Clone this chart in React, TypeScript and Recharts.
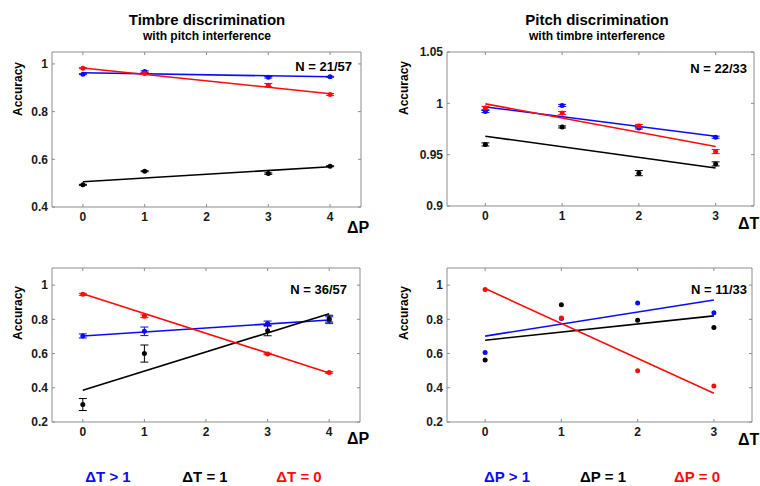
import React from 'react';
import { ComposedChart, Scatter, Line, XAxis, YAxis, ErrorBar } from 'recharts';

const BLUE = '#0a0aff';
const BLACK = '#000000';
const RED = '#ff0a0a';
const FRAME = '#8c8c8c';
const FONT = '"Liberation Sans", Arial, Helvetica, sans-serif';

// interference levels on the x axes
const dPLevels = [0, 1, 3, 4];
const dTLevels = [0, 1, 2, 3];
const dPTicks = [0, 1, 2, 3, 4];
const dTTicks = [0, 1, 2, 3];

const accTicksHigh = [0.4, 0.6, 0.8, 1];
const accTicksPitch = [0.9, 0.95, 1, 1.05];
const accTicksLow = [0.2, 0.4, 0.6, 0.8, 1];

// Timbre discrimination, N = 21/57
const timbreA_blue = [0.957, 0.968, 0.944, 0.946];
const timbreA_blueErr = [0.002, 0.003, 0.003, 0.002];
const timbreA_blueFit = [0.963, 0.946];
const timbreA_black = [0.493, 0.55, 0.54, 0.571];
const timbreA_blackErr = [0.002, 0.002, 0.003, 0.002];
const timbreA_blackFit = [0.506, 0.569];
const timbreA_red = [0.982, 0.96, 0.911, 0.872];
const timbreA_redErr = [0.002, 0.003, 0.007, 0.004];
const timbreA_redFit = [0.983, 0.875];

// Pitch discrimination, N = 22/33
const pitchA_blue = [0.992, 0.998, 0.976, 0.967];
const pitchA_blueErr = [0.001, 0.001, 0.001, 0.001];
const pitchA_blueFit = [0.9965, 0.968];
const pitchA_black = [0.96, 0.977, 0.932, 0.941];
const pitchA_blackErr = [0.0015, 0.001, 0.0025, 0.002];
const pitchA_blackFit = [0.968, 0.937];
const pitchA_red = [0.9955, 0.9905, 0.978, 0.953];
const pitchA_redErr = [0.0015, 0.0015, 0.0015, 0.002];
const pitchA_redFit = [0.9995, 0.958];

// Timbre discrimination, N = 36/57
const timbreB_blue = [0.703, 0.73, 0.775, 0.795];
const timbreB_blueErr = [0.012, 0.025, 0.015, 0.02];
const timbreB_blueFit = [0.703, 0.796];
const timbreB_black = [0.302, 0.6, 0.734, 0.804];
const timbreB_blackErr = [0.035, 0.05, 0.03, 0.02];
const timbreB_blackFit = [0.385, 0.833];
const timbreB_red = [0.946, 0.818, 0.598, 0.489];
const timbreB_redErr = [0.006, 0.008, 0.004, 0.005];
const timbreB_redFit = [0.95, 0.487];

// Pitch discrimination, N = 11/33
const pitchB_blue = [0.606, 0.805, 0.895, 0.838];
const pitchB_blueFit = [0.702, 0.913];
const pitchB_black = [0.563, 0.885, 0.795, 0.753];
const pitchB_blackFit = [0.678, 0.82];
const pitchB_red = [0.975, 0.808, 0.5, 0.41];
const pitchB_redFit = [0.98, 0.368];

type Series = { color: string; ys: number[]; errs?: number[]; fit: number[] };

type PanelProps = {
  box: [number, number, number, number];
  xs: number[];
  xTicks: number[];
  xDomain: [number, number];
  yTicks: number[];
  yDomain: [number, number];
  series: Series[];
};

// room around the plot frame for tick labels
const PAD_L = 46;
const PAD_T = 10;
const PAD_R = 4;
const PAD_B = 24;

function FrameTick(props: any) {
  const { x, y, payload, side } = props;
  const label = String(payload.value);
  const txt = { fontFamily: FONT, fontSize: 12, fontWeight: 700, fill: '#1a1a1a' };
  if (side === 'left') {
    return (
      <g>
        <line x1={x} y1={y} x2={x + 3} y2={y} stroke={FRAME} />
        <text x={x - 4} y={y} dy="0.36em" textAnchor="end" {...txt}>{label}</text>
      </g>
    );
  }
  if (side === 'bottom') {
    return (
      <g>
        <line x1={x} y1={y} x2={x} y2={y - 3} stroke={FRAME} />
        <text x={x} y={y + 14} textAnchor="middle" {...txt}>{label}</text>
      </g>
    );
  }
  if (side === 'top') {
    return <line x1={x} y1={y} x2={x} y2={y + 3} stroke={FRAME} />;
  }
  return <line x1={x} y1={y} x2={x - 3} y2={y} stroke={FRAME} />;
}

const dot = (color: string) => (p: any) => <circle cx={p.cx} cy={p.cy} r={2.5} fill={color} />;

function Panel({ box, xs, xTicks, xDomain, yTicks, yDomain, series }: PanelProps) {
  const [x0, y0, x1, y1] = box;
  const width = x1 - x0 + PAD_L + PAD_R;
  const height = y1 - y0 + PAD_T + PAD_B;
  const fitX = [xs[0], xs[xs.length - 1]];
  return (
    <div style={{ position: 'absolute', left: x0 - PAD_L, top: y0 - PAD_T }}>
      <ComposedChart width={width} height={height} margin={{ top: PAD_T - 1, right: PAD_R - 1, bottom: PAD_B - 20, left: PAD_L - 40 }}>
        <XAxis xAxisId="b" type="number" dataKey="x" domain={xDomain} ticks={xTicks} interval={0} allowDataOverflow
          height={20} tickSize={0} tickMargin={0} stroke={FRAME} tick={(p: any) => <FrameTick {...p} side="bottom" />} />
        <XAxis xAxisId="t" orientation="top" type="number" dataKey="x" domain={xDomain} ticks={xTicks} interval={0} allowDataOverflow
          height={1} tickSize={0} tickMargin={0} stroke={FRAME} tick={(p: any) => <FrameTick {...p} side="top" />} />
        <YAxis yAxisId="l" type="number" dataKey="y" domain={yDomain} ticks={yTicks} interval={0} allowDataOverflow
          width={40} tickSize={0} tickMargin={0} stroke={FRAME} tick={(p: any) => <FrameTick {...p} side="left" />} />
        <YAxis yAxisId="r" orientation="right" type="number" dataKey="y" domain={yDomain} ticks={yTicks} interval={0} allowDataOverflow
          width={1} tickSize={0} tickMargin={0} stroke={FRAME} tick={(p: any) => <FrameTick {...p} side="right" />} />
        {series.map((s, i) => (
          <Line key={`fit-${i}`} xAxisId="b" yAxisId="l" data={fitX.map((x, k) => ({ x, y: s.fit[k] }))} dataKey="y"
            type="linear" stroke={s.color} strokeWidth={1.6} dot={false} activeDot={false} isAnimationActive={false} />
        ))}
        {series.map((s, i) => (
          <Scatter key={`pts-${i}`} xAxisId="b" yAxisId="l" data={xs.map((x, k) => ({ x, y: s.ys[k], e: s.errs ? s.errs[k] : 0 }))}
            dataKey="y" shape={dot(s.color)} isAnimationActive={false}>
            {s.errs && <ErrorBar dataKey="e" direction="y" width={4} stroke={s.color} strokeWidth={1} isAnimationActive={false} />}
          </Scatter>
        ))}
      </ComposedChart>
    </div>
  );
}

type TextProps = { x: number; y: number; size: number; color?: string; anchor?: 'start' | 'middle' | 'end'; rotate?: boolean; children: React.ReactNode };

function Txt({ x, y, size, color = '#000', anchor = 'middle', rotate, children }: TextProps) {
  const shift = anchor === 'start' ? '0%' : anchor === 'end' ? '-100%' : '-50%';
  return (
    <div style={{
      position: 'absolute', left: x, top: y, fontSize: size, fontWeight: 700, color, lineHeight: 1,
      whiteSpace: 'nowrap', transform: `translate(${shift}, -50%)${rotate ? ' rotate(-90deg)' : ''}`,
    }}>{children}</div>
  );
}

export default function App() {
  return (
    <div style={{ position: 'absolute', left: 0, top: 0, width: 760, height: 486, background: '#fff', overflow: 'hidden', fontFamily: FONT }}>
      <Txt x={207} y={19} size={15}>Timbre discrimination</Txt>
      <Txt x={207} y={36} size={12}>with pitch interference</Txt>
      <Txt x={597} y={19} size={15}>Pitch discrimination</Txt>
      <Txt x={597} y={36} size={12}>with timbre interference</Txt>

      <Panel box={[52, 52, 361, 207]} xs={dPLevels} xTicks={dPTicks} xDomain={[-0.5, 4.5]} yTicks={accTicksHigh} yDomain={[0.4, 1.05]}
        series={[
          { color: BLUE, ys: timbreA_blue, errs: timbreA_blueErr, fit: timbreA_blueFit },
          { color: BLACK, ys: timbreA_black, errs: timbreA_blackErr, fit: timbreA_blackFit },
          { color: RED, ys: timbreA_red, errs: timbreA_redErr, fit: timbreA_redFit },
        ]} />
      <Panel box={[447, 52, 754, 206]} xs={dTLevels} xTicks={dTTicks} xDomain={[-0.5, 3.5]} yTicks={accTicksPitch} yDomain={[0.9, 1.05]}
        series={[
          { color: BLUE, ys: pitchA_blue, errs: pitchA_blueErr, fit: pitchA_blueFit },
          { color: BLACK, ys: pitchA_black, errs: pitchA_blackErr, fit: pitchA_blackFit },
          { color: RED, ys: pitchA_red, errs: pitchA_redErr, fit: pitchA_redFit },
        ]} />
      <Panel box={[52, 268, 360, 422]} xs={dPLevels} xTicks={dPTicks} xDomain={[-0.5, 4.5]} yTicks={accTicksLow} yDomain={[0.2, 1.1]}
        series={[
          { color: BLUE, ys: timbreB_blue, errs: timbreB_blueErr, fit: timbreB_blueFit },
          { color: BLACK, ys: timbreB_black, errs: timbreB_blackErr, fit: timbreB_blackFit },
          { color: RED, ys: timbreB_red, errs: timbreB_redErr, fit: timbreB_redFit },
        ]} />
      <Panel box={[447, 268, 752, 422]} xs={dTLevels} xTicks={dTTicks} xDomain={[-0.5, 3.5]} yTicks={accTicksLow} yDomain={[0.2, 1.1]}
        series={[
          { color: BLUE, ys: pitchB_blue, fit: pitchB_blueFit },
          { color: BLACK, ys: pitchB_black, fit: pitchB_blackFit },
          { color: RED, ys: pitchB_red, fit: pitchB_redFit },
        ]} />

      <Txt x={18} y={89} size={12} rotate>Accuracy</Txt>
      <Txt x={404} y={88} size={12} rotate>Accuracy</Txt>
      <Txt x={18} y={313} size={12} rotate>Accuracy</Txt>
      <Txt x={404} y={313} size={12} rotate>Accuracy</Txt>

      <Txt x={352} y={66} size={13} anchor="end">N = 21/57</Txt>
      <Txt x={747} y={68} size={13} anchor="end">N = 22/33</Txt>
      <Txt x={347} y={289} size={13} anchor="end">N = 36/57</Txt>
      <Txt x={747} y={289} size={13} anchor="end">N = 11/33</Txt>

      <Txt x={347} y={228} size={16} anchor="start">ΔP</Txt>
      <Txt x={738} y={224} size={16} anchor="start">ΔT</Txt>
      <Txt x={347} y={439} size={16} anchor="start">ΔP</Txt>
      <Txt x={738} y={440} size={16} anchor="start">ΔT</Txt>

      <Txt x={108} y={476} size={15} color={BLUE}>ΔT &gt; 1</Txt>
      <Txt x={205} y={476} size={15} color={BLACK}>ΔT = 1</Txt>
      <Txt x={299} y={476} size={15} color={RED}>ΔT = 0</Txt>
      <Txt x={507} y={476} size={15} color={BLUE}>ΔP &gt; 1</Txt>
      <Txt x={603} y={476} size={15} color={BLACK}>ΔP = 1</Txt>
      <Txt x={697} y={476} size={15} color={RED}>ΔP = 0</Txt>
    </div>
  );
}
